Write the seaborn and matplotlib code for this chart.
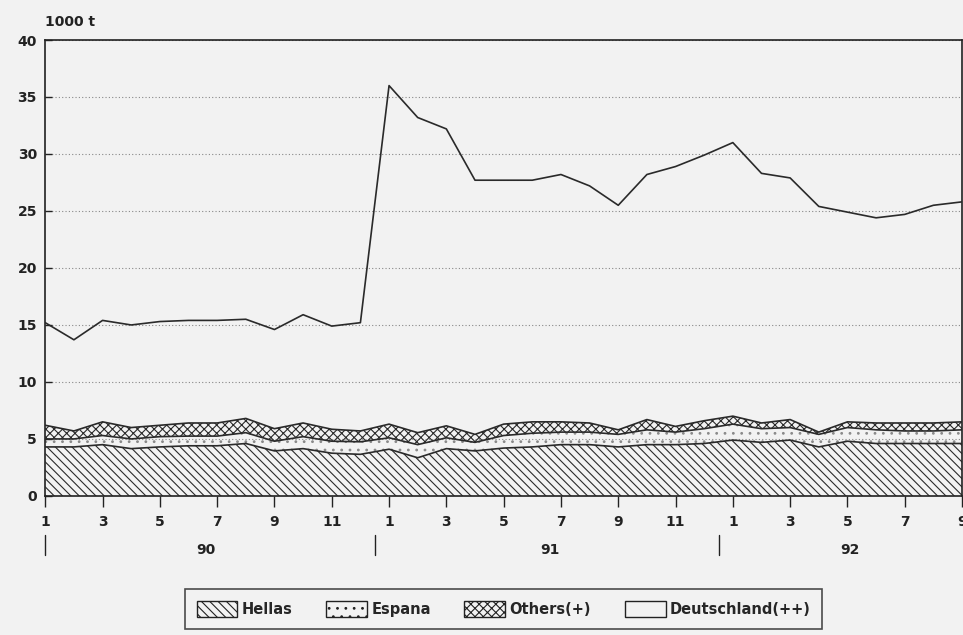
import matplotlib
matplotlib.use("Agg")
import matplotlib.pyplot as plt
import seaborn as sns
import pandas as pd
import numpy as np
from matplotlib.patches import Patch


# monthly data, Jan 1990 .. Sep 1992 (1000 t)
months = list(range(1, 13)) * 2 + list(range(1, 10))
years = ["90"] * 12 + ["91"] * 12 + ["92"] * 9
hellas = [4.3, 4.3, 4.5, 4.15, 4.3, 4.4, 4.4, 4.6, 3.95, 4.15, 3.75, 3.65,
          4.1, 3.35, 4.15, 3.95, 4.2, 4.3, 4.5, 4.5, 4.3, 4.5, 4.5, 4.6,
          4.9, 4.7, 4.9, 4.3, 4.8, 4.6, 4.6, 4.6, 4.6]
espana = [0.7, 0.7, 0.8, 0.85, 0.9, 0.85, 0.85, 0.95, 0.85, 1.05, 1.05, 1.1,
          1.0, 1.15, 0.95, 0.75, 1.1, 1.2, 1.1, 1.1, 1.1, 1.3, 1.1, 1.3,
          1.4, 1.2, 1.1, 1.1, 1.2, 1.2, 1.1, 1.1, 1.2]
others = [1.2, 0.7, 1.2, 1.0, 1.0, 1.15, 1.15, 1.25, 1.1, 1.2, 1.05, 0.95,
          1.2, 1.05, 1.05, 0.7, 1.0, 1.0, 0.9, 0.8, 0.4, 0.9, 0.5, 0.7,
          0.7, 0.5, 0.7, 0.2, 0.5, 0.6, 0.7, 0.7, 0.7]
deutschland = [9.0, 8.0, 8.9, 9.0, 9.1, 9.0, 9.0, 8.7, 8.7, 9.5, 9.05, 9.5,
               29.7, 27.65, 26.05, 22.3, 21.4, 21.2, 21.7, 20.8, 19.7, 21.5, 22.8, 23.3,
               24.0, 21.9, 21.2, 19.8, 18.4, 18.0, 18.3, 19.1, 19.3]
series_names = ["Hellas", "Espana", "Others(+)", "Deutschland(++)"]
hatches = ["\\\\\\\\", "..", "xxxx", ""]
hatch_colors = ["#2a2a2a", "#8a8a8a", "#2a2a2a", "#2a2a2a"]
year_labels = ["90", "91", "92"]

df = pd.DataFrame({"month": months, "year": years, "Hellas": hellas,
                   "Espana": espana, "Others(+)": others,
                   "Deutschland(++)": deutschland})
df["t"] = np.arange(len(df))

sns.set_theme(style="ticks")
plt.rcParams['font.family'] = ['DejaVu Sans']
plt.rcParams['font.weight'] = 'bold'
plt.rcParams['hatch.linewidth'] = 0.8

bg = "#f2f2f2"
fig = plt.figure(figsize=(9.63, 6.35), dpi=100, facecolor=bg)
ax = fig.add_axes([0.047, 0.219, 0.952, 0.718], facecolor="#f2f2f2")

#------------------------------------------------------------------------------------------------------------------------
#               stacked areas
#------------------------------------------------------------------------------------------------------------------------
base = np.zeros(len(df))
for name, h, hc in zip(series_names, hatches, hatch_colors):
    top = base + df[name].values
    if h:
        ax.fill_between(df["t"], base, top, facecolor="none", edgecolor=hc,
                        hatch=h, linewidth=0, zorder=2)
    sns.lineplot(x=df["t"], y=top, color="#2a2a2a", linewidth=1.2, ax=ax, zorder=3)
    base = top

ax.set_xlim(0, len(df) - 1)
ax.set_ylim(0, 40)
ax.set_yticks(range(0, 41, 5))
ax.yaxis.grid(True, linestyle=(0, (1, 2)), color="#888888", linewidth=0.8)
ax.tick_params(axis="y", direction="in", length=5, width=1, labelsize=10, pad=6, colors="#222222")

odd = df.index[df["month"] % 2 == 1]
ax.set_xticks(df.loc[odd, "t"])
ax.set_xticklabels(df.loc[odd, "month"].astype(str))
ax.tick_params(axis="x", direction="out", length=8, width=1, labelsize=10, pad=6, colors="#222222")
ax.set_xlabel("")
ax.set_ylabel("")
for sp in ax.spines.values():
    sp.set_color("#222222")
    sp.set_linewidth(1.2)

ax.text(0.0, 1.025, "1000 t", transform=ax.transAxes, fontsize=10, fontweight="bold",
        ha="left", va="bottom", color="#222222")

# year labels + separators
trans = ax.get_xaxis_transform()
for y in year_labels:
    idx = df.index[df["year"] == y]
    start = df.loc[idx[0], "t"]
    end = df.loc[idx[-1], "t"]
    ax.text((start + end) / 2 + 0.1, -0.118, y, transform=trans, ha="center", va="center",
            fontsize=10, fontweight="bold", color="#222222")
    sep = start if y == "90" else start - 0.5
    ax.plot([sep, sep], [-0.085, -0.13], transform=trans, color="#222222",
            linewidth=1, clip_on=False)

handles = [Patch(facecolor=bg, edgecolor=hc, hatch=h, linewidth=1)
           for h, hc in zip(hatches, hatch_colors)]
leg = fig.legend(handles, series_names, loc="center", bbox_to_anchor=(0.523, 0.041), ncol=4,
                 frameon=True, fancybox=False, edgecolor="#222222", facecolor=bg,
                 fontsize=10.5, handlelength=2.8, handleheight=1.3, columnspacing=2.3,
                 handletextpad=0.3, borderpad=0.8)
leg.get_frame().set_linewidth(1.2)
for t, p in zip(leg.get_texts(), leg.legend_handles):
    t.set_fontweight("bold")
    p.set_edgecolor("#222222")

fig.savefig("out.png", dpi=100, facecolor=bg)
